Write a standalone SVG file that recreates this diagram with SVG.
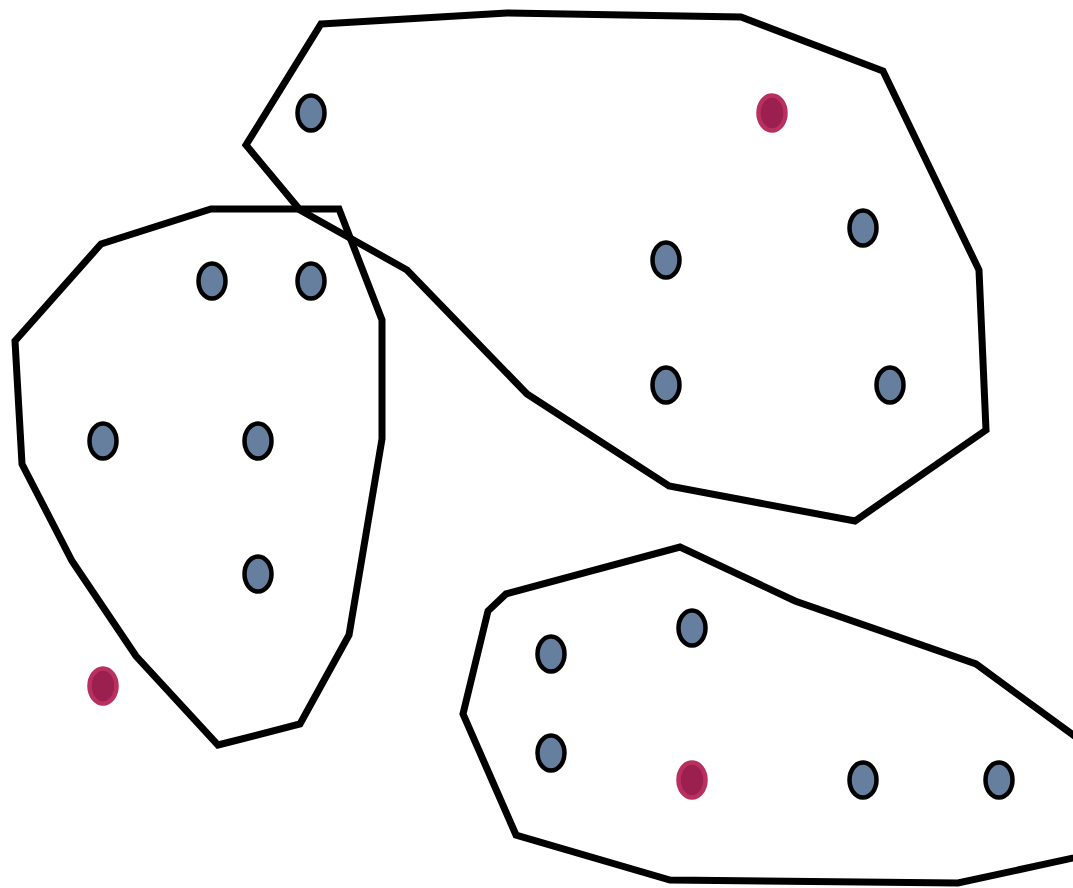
<svg xmlns="http://www.w3.org/2000/svg" width="1073" height="888" viewBox="0 0 1073 888">
<style>
.hull{fill:none;stroke:#000;stroke-width:7;stroke-linejoin:miter}
.b{fill:#667f9f;stroke:#000;stroke-width:4.5}
.r{fill:#9b1f4f;stroke:#b9305f;stroke-width:4.5}
</style>
<rect width="1073" height="888" fill="#fff"/>
<g id="connectors">
<polygon id="hull-top" class="hull" points="321,24 507,13 741,17 883,71 979,270 986,430 855,521 669,486 527,394 407,270 300,210 246,145"/>
<polygon id="hull-left" class="hull" points="211,209 339,209 382,320 382,439 349,635 300,724 218,745 136,656 72,561 22,464 15,341 101,244"/>
<polygon id="hull-bottom" class="hull" points="506,594 680,547 795,601 976,664 1110,762 1110,850 958,883 670,880 516,835 463,714 488,611"/>
</g>
<g id="n1"><ellipse class="b" cx="311" cy="113" rx="13.5" ry="17.5"/></g>
<g id="n2"><ellipse class="r" cx="772" cy="113" rx="13.5" ry="17.5"/></g>
<g id="n3"><ellipse class="b" cx="212" cy="281" rx="13.5" ry="17.5"/></g>
<g id="n4"><ellipse class="b" cx="311" cy="281" rx="13.5" ry="17.5"/></g>
<g id="n5"><ellipse class="b" cx="103" cy="441" rx="13.5" ry="17.5"/></g>
<g id="n6"><ellipse class="b" cx="258" cy="441" rx="13.5" ry="17.5"/></g>
<g id="n7"><ellipse class="b" cx="258" cy="574" rx="13.5" ry="17.5"/></g>
<g id="n8"><ellipse class="r" cx="103" cy="686" rx="13.5" ry="17.5"/></g>
<g id="n9"><ellipse class="b" cx="666" cy="260" rx="13.5" ry="17.5"/></g>
<g id="n10"><ellipse class="b" cx="863" cy="228" rx="13.5" ry="17.5"/></g>
<g id="n11"><ellipse class="b" cx="666" cy="385" rx="13.5" ry="17.5"/></g>
<g id="n12"><ellipse class="b" cx="890" cy="385" rx="13.5" ry="17.5"/></g>
<g id="n13"><ellipse class="b" cx="551" cy="654" rx="13.5" ry="17.5"/></g>
<g id="n14"><ellipse class="b" cx="692" cy="628" rx="13.5" ry="17.5"/></g>
<g id="n15"><ellipse class="b" cx="551" cy="753" rx="13.5" ry="17.5"/></g>
<g id="n16"><ellipse class="r" cx="692" cy="780" rx="13.5" ry="17.5"/></g>
<g id="n17"><ellipse class="b" cx="863" cy="780" rx="13.5" ry="17.5"/></g>
<g id="n18"><ellipse class="b" cx="999" cy="780" rx="13.5" ry="17.5"/></g>
</svg>
